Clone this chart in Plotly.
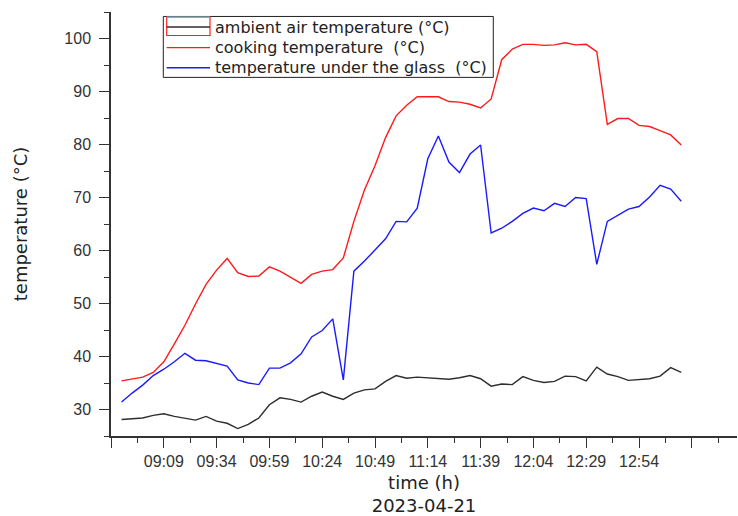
import plotly.graph_objects as go

DAY = "2023-04-21"

# Sampling times (every 5 minutes)
times = [
    "08:49", "08:54", "08:59", "09:04", "09:09", "09:14", "09:19", "09:24", "09:29", "09:34",
    "09:39", "09:44", "09:49", "09:54", "09:59", "10:04", "10:09", "10:14", "10:19", "10:24",
    "10:29", "10:34", "10:39", "10:44", "10:49", "10:54", "10:59", "11:04", "11:09", "11:14",
    "11:19", "11:24", "11:29", "11:34", "11:39", "11:44", "11:49", "11:54", "11:59", "12:04",
    "12:09", "12:14", "12:19", "12:24", "12:29", "12:34", "12:39", "12:44", "12:49", "12:54",
    "12:59", "13:04", "13:09", "13:14",
]

ambient = [
    28.1, 28.3, 28.4, 28.9, 29.2, 28.7, 28.3, 28.0, 28.7, 27.8,
    27.4, 26.4, 27.2, 28.4, 30.9, 32.2, 31.9, 31.4, 32.5, 33.3,
    32.5, 31.9, 33.1, 33.7, 33.9, 35.3, 36.4, 35.9, 36.1, 36.0,
    35.9, 35.7, 36.0, 36.4, 35.8, 34.4, 34.8, 34.7, 36.2, 35.5,
    35.1, 35.3, 36.3, 36.2, 35.4, 38.0, 36.7, 36.2, 35.5, 35.7,
    35.8, 36.3, 37.9, 37.0,
]

cooking = [
    35.4, 35.7, 36.1, 37.0, 39.0, 42.4, 45.9, 49.9, 53.6, 56.3,
    58.5, 55.8, 55.1, 55.2, 56.9, 56.1, 54.9, 53.8, 55.5, 56.1,
    56.4, 58.6, 65.5, 71.4, 76.0, 81.3, 85.4, 87.4, 89.0, 89.0,
    89.0, 88.1, 88.0, 87.6, 86.9, 88.6, 96.0, 98.0, 98.9, 98.9,
    98.7, 98.8, 99.2, 98.8, 98.9, 97.5, 83.8, 84.9, 84.9, 83.6,
    83.4, 82.6, 81.8, 79.9,
]

under_glass = [
    31.4, 33.1, 34.6, 36.4, 37.6, 39.0, 40.6, 39.3, 39.2, 38.7,
    38.2, 35.6, 35.0, 34.7, 37.8, 37.8, 38.8, 40.5, 43.7, 44.9,
    47.1, 35.6, 56.1, 58.0, 60.0, 62.2, 65.5, 65.4, 68.0, 77.3,
    81.6, 76.7, 74.7, 78.2, 79.9, 63.3, 64.2, 65.5, 67.0, 68.0,
    67.5, 68.9, 68.3, 70.0, 69.8, 57.4, 65.5, 66.7, 67.8, 68.3,
    70.1, 72.3, 71.6, 69.3,
]

major_times = ["08:44", "09:09", "09:34", "09:59", "10:24", "10:49", "11:14",
               "11:39", "12:04", "12:29", "12:54", "13:19"]
major_labels = ["", "09:09", "09:34", "09:59", "10:24", "10:49", "11:14",
                "11:39", "12:04", "12:29", "12:54", ""]
minor_times = ["08:56:30", "09:21:30", "09:46:30", "10:11:30", "10:36:30", "11:01:30",
               "11:26:30", "11:51:30", "12:16:30", "12:41:30", "13:06:30", "13:31:30"]

series_names = [
    "ambient air temperature (°C)",
    "cooking temperature  (°C)",
    "temperature under the glass  (°C)",
]
series_colors = ["#2e2e2e", "#ff1a1a", "#1a1aff"]

W, H = 738, 516
L, R, T, B = 111, 1, 12, 76
PW, PH = W - L - R, H - T - B

TICK_FONT = "Arial, Liberation Sans, sans-serif"
TEXT_FONT = "DejaVu Sans, sans-serif"
AXIS_COLOR = "#333333"


def stamp(t):
    return f"{DAY} {t}"


def px(xp):
    return (xp - L) / PW


def py(yp):
    return (T + PH - yp) / PH


x = [stamp(t) for t in times]

fig = go.Figure()
for name, values, color in zip(series_names, [ambient, cooking, under_glass], series_colors):
    fig.add_trace(go.Scatter(
        x=x, y=values, name=name, mode="lines",
        line=dict(color=color, width=1.4),
        showlegend=False,
    ))

# Legend box drawn in pixel positions
box = dict(x0=163.3, y0=16.5, x1=493.3, y1=78)
rows_y = [27.2, 48.0, 68.3]
sample_x0, sample_x1 = 166.7, 210
text_x = 212.5

shapes = [
    dict(type="rect", xref="paper", yref="paper",
         x0=px(box["x0"]), x1=px(box["x1"]), y0=py(box["y0"]), y1=py(box["y1"]),
         line=dict(color="#222222", width=1), fillcolor="white", layer="above"),
    dict(type="rect", xref="paper", yref="paper",
         x0=px(sample_x0), x1=px(sample_x1), y0=py(17.2), y1=py(35.7),
         line=dict(color="#ff2020", width=1.2), layer="above"),
    dict(type="line", xref="paper", yref="paper",
         x0=px(sample_x0), x1=px(sample_x1), y0=py(17.2), y1=py(17.2),
         line=dict(color="#33e0f0", width=1.4), layer="above"),
]
annotations = []
for name, color, ry in zip(series_names, series_colors, rows_y):
    shapes.append(dict(type="line", xref="paper", yref="paper",
                       x0=px(sample_x0), x1=px(sample_x1), y0=py(ry), y1=py(ry),
                       line=dict(color=color, width=1.4), layer="above"))
    annotations.append(dict(xref="paper", yref="paper", x=px(text_x), y=py(ry),
                            xanchor="left", yanchor="middle", showarrow=False,
                            text=name, font=dict(family=TEXT_FONT, size=16, color="#222222")))

fig.update_layout(
    width=W, height=H,
    margin=dict(l=L, r=R, t=T, b=B, pad=0),
    paper_bgcolor="white", plot_bgcolor="white",
    font=dict(family=TICK_FONT, color="#222222"),
    shapes=shapes, annotations=annotations,
    xaxis=dict(
        type="date",
        range=[stamp("08:44"), stamp("13:40:24")],
        tickmode="array",
        tickvals=[stamp(t) for t in major_times],
        ticktext=major_labels,
        ticks="outside", ticklen=10, tickwidth=1.3, tickcolor=AXIS_COLOR,
        minor=dict(tickmode="array", tickvals=[stamp(t) for t in minor_times],
                   ticks="outside", ticklen=5, tickwidth=1.3, tickcolor=AXIS_COLOR),
        showline=True, linecolor=AXIS_COLOR, linewidth=1.5,
        showgrid=False, zeroline=False,
        tickfont=dict(family=TICK_FONT, size=16, color="#333333"),
        title=dict(text="time (h)<br>2023-04-21",
                   font=dict(family=TEXT_FONT, size=18, color="#222222"), standoff=9),
    ),
    yaxis=dict(
        range=[25, 105],
        tickmode="linear", tick0=0, dtick=10,
        ticks="outside", ticklen=10, tickwidth=1.3, tickcolor=AXIS_COLOR,
        minor=dict(dtick=5, tick0=0, ticks="outside", ticklen=5, tickwidth=1.3,
                   tickcolor=AXIS_COLOR),
        showline=True, linecolor=AXIS_COLOR, linewidth=1.5,
        showgrid=False, zeroline=False,
        tickfont=dict(family=TICK_FONT, size=16, color="#333333"),
        ticklabelstandoff=5,
        title=dict(text="temperature (°C)",
                   font=dict(family=TEXT_FONT, size=18, color="#222222"), standoff=32),
    ),
)

fig.write_html("out.html")
